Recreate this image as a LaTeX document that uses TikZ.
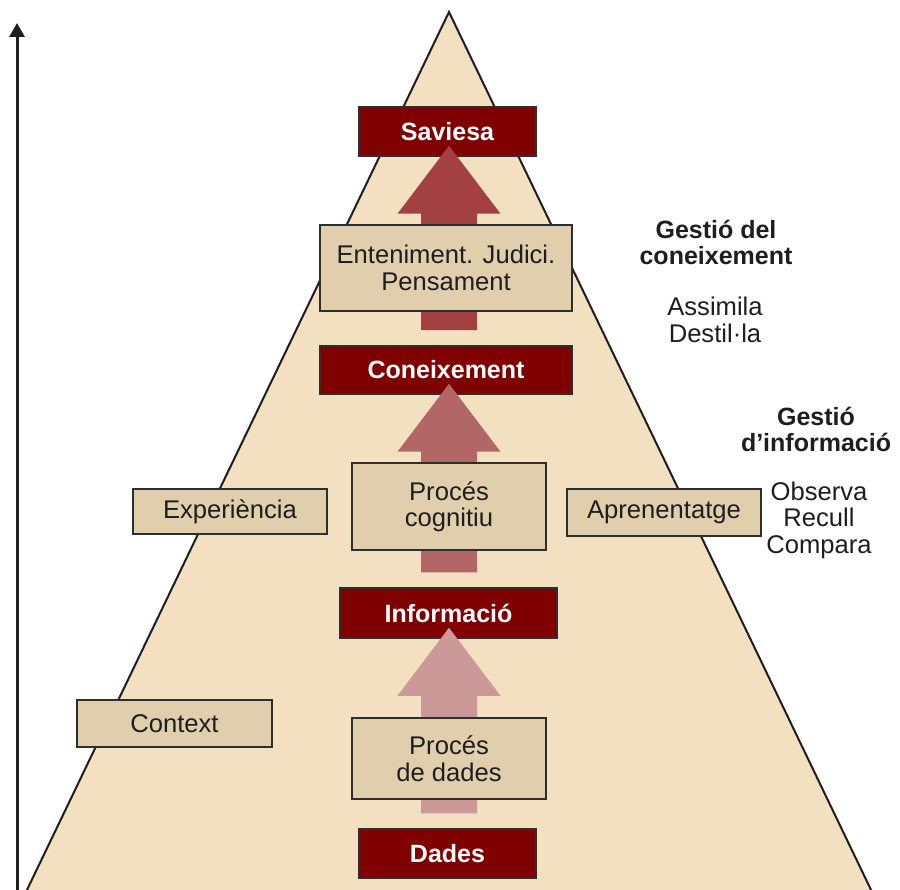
\documentclass[tikz,border=0pt]{standalone}
\usepackage{fontspec}
\setmainfont{Liberation Sans}
\usetikzlibrary{arrows.meta,calc}
\pgfdeclarelayer{bg}
\pgfdeclarelayer{fg}
\pgfsetlayers{bg,main,fg}
\definecolor{pyr}{HTML}{F3E0C1}
\definecolor{tanfill}{HTML}{E0CEAC}
\definecolor{darkred}{HTML}{800000}
\definecolor{boxline}{HTML}{2E2E2E}
\definecolor{txt}{HTML}{1E1E1E}
\definecolor{arrA}{HTML}{A24042}
\definecolor{arrB}{HTML}{B26666}
\definecolor{arrC}{HTML}{CC9999}
\newcommand\blockarrow[3]{%
  \fill[#3] let \p1=(#1.north), \p2=(#2.south) in
    (421pt,\y1+15pt) -- (477pt,\y1+15pt) -- (477pt,\y2-57pt) -- (500.5pt,\y2-57pt)
    -- (449pt,\y2+11pt) -- (397.5pt,\y2-57pt) -- (421pt,\y2-57pt) -- cycle;}
\tikzset{
  txtfont/.style={font=\fontsize{25.6}{26.5}\selectfont},
  redbox/.style={draw=boxline, line width=1.5pt, fill=darkred, text=white,
    font=\fontsize{25}{26}\selectfont\bfseries, inner sep=0pt},
  tanbox/.style={draw=boxline, line width=1.5pt, fill=tanfill, text=txt,
    align=center, txtfont, inner sep=0pt},
  lbl/.style={align=center, text=txt, txtfont},
  boldlbl/.style={align=center, text=txt, font=\fontsize{25}{26}\selectfont\bfseries},
}
\begin{document}
\begin{tikzpicture}[x=1pt, y=-1pt]
\useasboundingbox (0,0) rectangle (900,890);
\begin{pgfonlayer}{bg}
  \fill[white] (0,0) rectangle (900,890);
  \coordinate (apex) at (449,12);
  \coordinate (bl) at (25.5,893);
  \coordinate (br) at (872.5,893);
  \filldraw[fill=pyr, draw=txt, line width=2pt] (bl) -- (apex) -- (br) -- cycle;
  \coordinate (axb) at (17,892);
  \coordinate (axt) at (17,23);
  \draw[txt, line width=3pt, -{Triangle[width=15pt,length=14pt]}] (axb) -- (axt);
\end{pgfonlayer}

% red level boxes
\node[redbox, minimum width=177pt, minimum height=49pt] (sav) at (447.5,131.5) {Saviesa};
\node[redbox, minimum width=252pt, minimum height=48pt] (con) at (446,370) {Coneixement};
\node[redbox, minimum width=217pt, minimum height=50pt] (inf) at (448.5,613) {Informació};
\node[redbox, minimum width=177pt, minimum height=49pt] (dad) at (447.5,853.5) {Dades};

% block arrows
\blockarrow{con}{sav}{arrA}
\blockarrow{inf}{con}{arrB}
\blockarrow{dad}{inf}{arrC}

% process boxes
\begin{pgfonlayer}{fg}
\node[tanbox, minimum width=252pt, minimum height=86pt] (ent) at (446,268) {Enteniment. Judici.\\Pensament};
\node[tanbox, minimum width=194pt, minimum height=87pt] (pcog) at (449,506.5) {Procés\\cognitiu};
\node[tanbox, minimum width=194pt, minimum height=81pt] (pdad) at (449,758.5) {Procés\\de dades};
\node[tanbox, minimum width=194pt, minimum height=45pt] (exp) at (230,511.5) {Experiència};
\node[tanbox, minimum width=195pt, minimum height=47pt] (ctx) at (174.5,723.5) {Context};
\node[tanbox, minimum width=194pt, minimum height=47pt] (apr) at (664,512.5) {Aprenentatge};
\end{pgfonlayer}

% side labels
\node[boldlbl] (gc) at (716,242) {Gestió del\\coneixement};
\node[lbl] (ad) at (715,320) {Assimila\\Destil·la};
\node[boldlbl] (gi) at (816,429) {Gestió\\d’informació};
\node[lbl] (orc) at (819,520) {Observa\\Recull\\Compara};
\end{tikzpicture}
\end{document}
